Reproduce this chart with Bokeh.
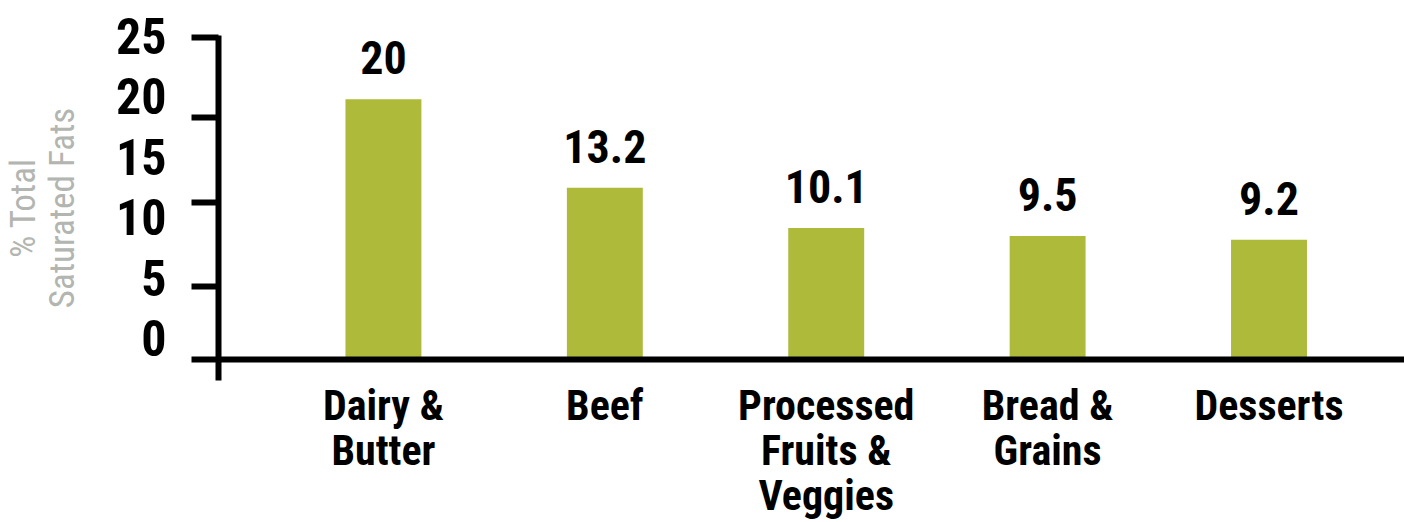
from bokeh.plotting import figure
from bokeh.models import LinearAxis, FixedTicker, Range1d, ColumnDataSource, Span
from bokeh.core.properties import value
from bokeh.embed import file_html
from bokeh.resources import INLINE

categories = ["Dairy &\nButter", "Beef", "Processed\nFruits &\nVeggies", "Bread &\nGrains", "Desserts"]
values = [20, 13.2, 10.1, 9.5, 9.2]
value_labels = ["20", "13.2", "10.1", "9.5", "9.2"]
tick_marks = [0, 5.6, 12.1, 18.6, 24.75]
tick_labels = [0, 5, 10, 15, 20, 25]

FONT = "Roboto Condensed, Open Sans Condensed, Noto Sans ExtraCondensed, DejaVu Sans Condensed"
BAR = "#adba3a"
GRAY = "#b2b5b0"

idx = list(range(len(categories)))
src = ColumnDataSource(dict(x=idx, top=values, lab=value_labels))

p = figure(width=1404, height=522, output_backend="svg", toolbar_location=None,
           x_range=Range1d(-0.745, 4.612), y_range=Range1d(-1.61, 24.9),
           x_axis_location=None, y_axis_location=None,
           min_border_left=217, min_border_right=0, min_border_top=35, min_border_bottom=141)
p.outline_line_color = None
p.xgrid.visible = False
p.ygrid.visible = False
p.background_fill_color = "white"
p.border_fill_color = "white"

p.vbar(x="x", top="top", width=0.343, bottom=0, source=src, fill_color=BAR, line_color=None)
p.text(x="x", y="top", text="lab", source=src, y_offset=-25,
       text_align="center", text_baseline="bottom",
       text_font=value(FONT), text_font_style="bold", text_font_size="46px", text_color="black")

# baseline (x axis line)
p.add_layout(Span(location=0, dimension="width", line_color="black", line_width=6))

# y axis line with tick marks
ya = LinearAxis(ticker=FixedTicker(ticks=tick_marks))
ya.axis_line_width = 6
ya.axis_line_color = "black"
ya.major_tick_line_width = 6
ya.major_tick_line_color = "black"
ya.major_tick_out = 27
ya.major_tick_in = 0
ya.minor_tick_line_color = None
ya.major_label_overrides = {t: "" for t in tick_marks}
ya.major_label_standoff = 0
p.add_layout(ya, "left")

# tick label axis
p.extra_y_ranges = {"lab": Range1d(-3.5, 25.01)}
yl = LinearAxis(y_range_name="lab", ticker=FixedTicker(ticks=tick_labels))
yl.axis_line_color = None
yl.major_tick_line_color = None
yl.minor_tick_line_color = None
yl.major_tick_out = 0
yl.major_tick_in = 0
yl.major_label_standoff = 25
yl.major_label_text_font = FONT
yl.major_label_text_font_style = "bold"
yl.major_label_text_font_size = "50px"
yl.major_label_text_color = "black"
yl.axis_label = "% Total\nSaturated Fats"
yl.axis_label_text_font = FONT
yl.axis_label_text_font_style = "normal"
yl.axis_label_text_font_size = "35px"
yl.axis_label_text_line_height = 0.95
yl.axis_label_text_color = GRAY
yl.axis_label_standoff = 30
p.add_layout(yl, "left")

# category axis
xa = LinearAxis(ticker=FixedTicker(ticks=idx))
xa.axis_line_color = None
xa.major_tick_line_color = None
xa.minor_tick_line_color = None
xa.major_tick_out = 0
xa.major_tick_in = 0
xa.major_label_overrides = {i: c for i, c in zip(idx, categories)}
xa.major_label_standoff = 0
xa.major_label_text_font = FONT
xa.major_label_text_font_style = "bold"
xa.major_label_text_font_size = "42px"
xa.major_label_text_line_height = 0.92
xa.major_label_text_color = "black"
p.add_layout(xa, "below")

open("out.html", "w").write(file_html(p, INLINE))
